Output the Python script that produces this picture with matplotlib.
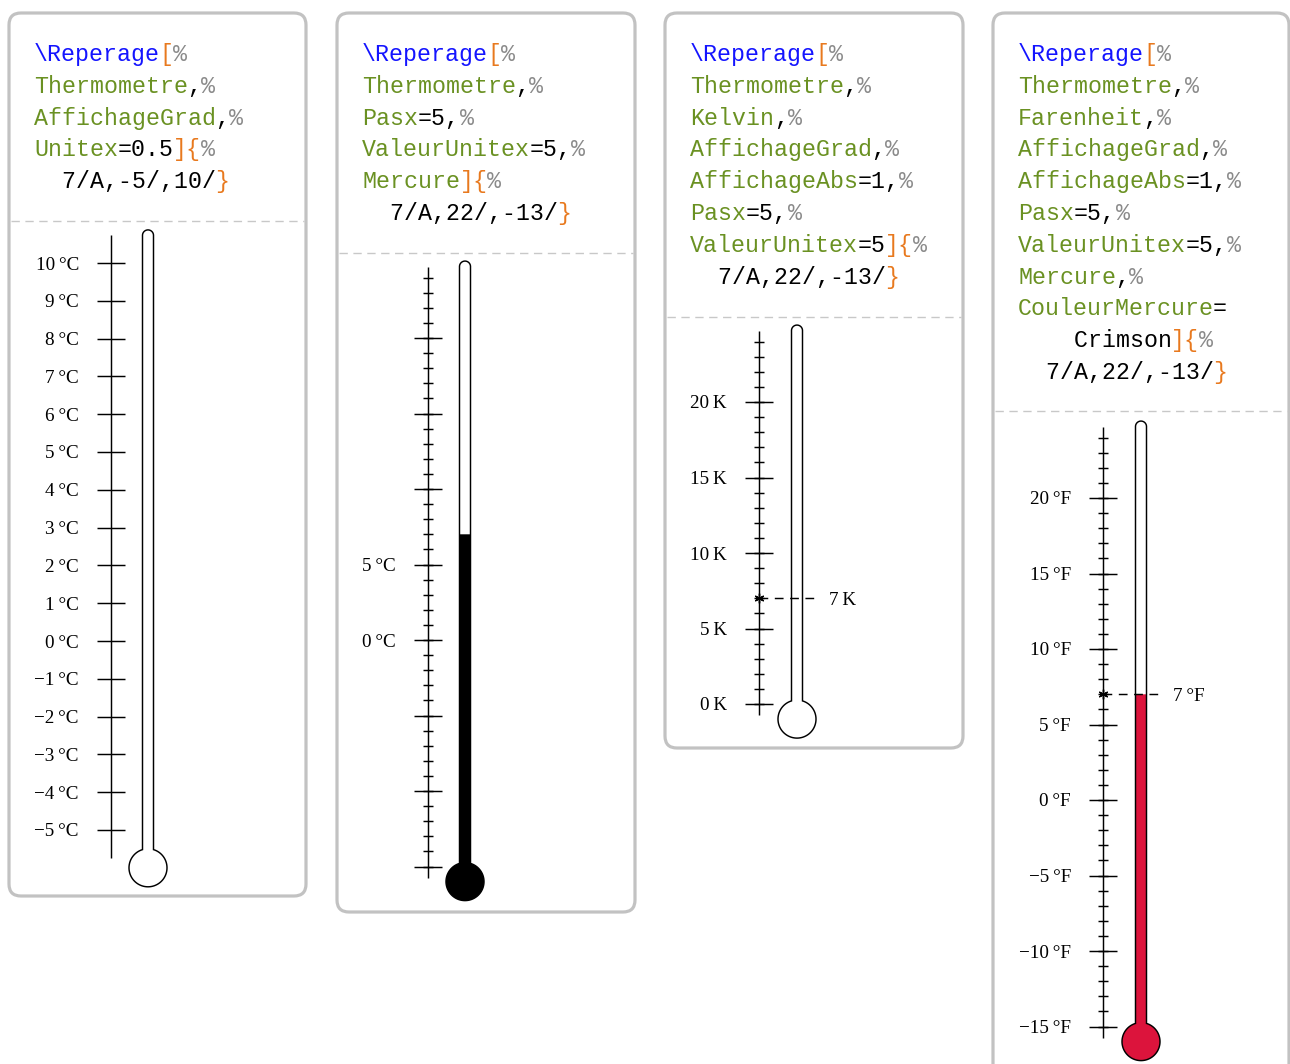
import numpy as np
import matplotlib.pyplot as plt
from matplotlib.patches import FancyBboxPatch, Polygon

W, H = 1290, 1064

# ---------- data ----------
value = 7

p1_major = [-5, -4, -3, -2, -1, 0, 1, 2, 3, 4, 5, 6, 7, 8, 9, 10]
p1_minor = []
p1_labels = [-5, -4, -3, -2, -1, 0, 1, 2, 3, 4, 5, 6, 7, 8, 9, 10]

p2_major = [-15, -10, -5, 0, 5, 10, 15, 20]
p2_minor = [-15, -14, -13, -12, -11, -10, -9, -8, -7, -6, -5, -4, -3, -2, -1,
            0, 1, 2, 3, 4, 5, 6, 7, 8, 9, 10, 11, 12, 13, 14, 15, 16, 17, 18,
            19, 20, 21, 22, 23, 24]
p2_labels = [0, 5]

p3_major = [0, 5, 10, 15, 20]
p3_minor = [0, 1, 2, 3, 4, 5, 6, 7, 8, 9, 10, 11, 12, 13, 14, 15, 16, 17, 18,
            19, 20, 21, 22, 23, 24]
p3_labels = [0, 5, 10, 15, 20]

p4_major = [-15, -10, -5, 0, 5, 10, 15, 20]
p4_minor = p2_minor
p4_labels = [-15, -10, -5, 0, 5, 10, 15, 20]

units = ["\u2009°C", "\u2009°C", "\u2009K", "\u2009°F"]
mercury = [None, "black", None, "#DC143C"]
show_abs = [False, False, True, True]

# code listings: (text, colour key)
code1 = [
    [("\\Reperage", "b"), ("[", "o"), ("%", "p")],
    [("Thermometre", "g"), (",", "k"), ("%", "p")],
    [("AffichageGrad", "g"), (",", "k"), ("%", "p")],
    [("Unitex", "g"), ("=0.5", "k"), ("]{", "o"), ("%", "p")],
    [("  7/A,-5/,10/", "k"), ("}", "o")],
]
code2 = [
    [("\\Reperage", "b"), ("[", "o"), ("%", "p")],
    [("Thermometre", "g"), (",", "k"), ("%", "p")],
    [("Pasx", "g"), ("=5,", "k"), ("%", "p")],
    [("ValeurUnitex", "g"), ("=5,", "k"), ("%", "p")],
    [("Mercure", "g"), ("]{", "o"), ("%", "p")],
    [("  7/A,22/,-13/", "k"), ("}", "o")],
]
code3 = [
    [("\\Reperage", "b"), ("[", "o"), ("%", "p")],
    [("Thermometre", "g"), (",", "k"), ("%", "p")],
    [("Kelvin", "g"), (",", "k"), ("%", "p")],
    [("AffichageGrad", "g"), (",", "k"), ("%", "p")],
    [("AffichageAbs", "g"), ("=1,", "k"), ("%", "p")],
    [("Pasx", "g"), ("=5,", "k"), ("%", "p")],
    [("ValeurUnitex", "g"), ("=5", "k"), ("]{", "o"), ("%", "p")],
    [("  7/A,22/,-13/", "k"), ("}", "o")],
]
code4 = [
    [("\\Reperage", "b"), ("[", "o"), ("%", "p")],
    [("Thermometre", "g"), (",", "k"), ("%", "p")],
    [("Farenheit", "g"), (",", "k"), ("%", "p")],
    [("AffichageGrad", "g"), (",", "k"), ("%", "p")],
    [("AffichageAbs", "g"), ("=1,", "k"), ("%", "p")],
    [("Pasx", "g"), ("=5,", "k"), ("%", "p")],
    [("ValeurUnitex", "g"), ("=5,", "k"), ("%", "p")],
    [("Mercure", "g"), (",", "k"), ("%", "p")],
    [("CouleurMercure", "g"), ("=", "k")],
    [("    Crimson", "k"), ("]{", "o"), ("%", "p")],
    [("  7/A,22/,-13/", "k"), ("}", "o")],
]

COLORS = {"b": "#1414ff", "g": "#6a9122", "o": "#e8791e", "p": "#8a8a8a", "k": "black"}
MONO = ["Liberation Mono", "DejaVu Sans Mono"]
SERIF = ["Liberation Serif", "DejaVu Serif"]
CHARW = 13.93
MONO_FS = CHARW / 0.6 * 0.72
LAB_FS = 13.8

# ---------- layout (pixels) ----------
panels = [
    dict(box=(9, 13, 306, 896), sep=221, x0=34, axx=111, tx=148, y0=641, s=37.8,
         major=p1_major, minor=p1_minor, labels=p1_labels, code=code1),
    dict(box=(337, 13, 635, 912), sep=253, x0=362, axx=428, tx=465, y0=640, s=15.1,
         major=p2_major, minor=p2_minor, labels=p2_labels, code=code2),
    dict(box=(665, 13, 963, 748), sep=317, x0=690, axx=759, tx=797, y0=704, s=15.1,
         major=p3_major, minor=p3_minor, labels=p3_labels, code=code3),
    dict(box=(993, 13, 1289, 1090), sep=411, x0=1018, axx=1103, tx=1141, y0=800, s=15.1,
         major=p4_major, minor=p4_minor, labels=p4_labels, code=code4),
]

fig = plt.figure(figsize=(W / 100, H / 100), dpi=100)
bg = fig.add_axes([0, 0, 1, 1])
bg.set_xlim(0, W)
bg.set_ylim(H, 0)
bg.axis("off")

R = 19.0   # bulb radius px
HW = 5.5   # tube half width px
EXT = 0.73 # axis extension in units
LW = 1.05


def therm_shape(xc, tb, ttop, s, tfill=None):
    a = np.arcsin(HW / R)
    alpha = np.pi / 2 - a
    t_int = tb + np.sqrt(R ** 2 - HW ** 2) / s
    verts = [(xc + HW, t_int)]
    if tfill is None:
        verts.append((xc + HW, ttop))
        th = np.linspace(0, np.pi, 40)
        verts += list(zip(xc + HW * np.cos(th), ttop + HW * np.sin(th) / s))
    else:
        verts += [(xc + HW, tfill), (xc - HW, tfill)]
    verts.append((xc - HW, t_int))
    th = np.linspace(np.pi - alpha, 2 * np.pi + alpha, 120)
    verts += list(zip(xc + R * np.cos(th), tb + R * np.sin(th) / s))
    return verts


for i, p in enumerate(panels):
    x1, y1, x2, y2 = p["box"]
    bg.add_patch(FancyBboxPatch((x1, y1), x2 - x1, y2 - y1,
                                boxstyle="round,pad=0,rounding_size=12",
                                fc="white", ec="#c2c2c2", lw=2.3, zorder=0))
    bg.plot([x1 + 2, x2 - 2], [p["sep"], p["sep"]], color="#c8c8c8", lw=1.0,
            dashes=(6, 4), zorder=1)

    # code text
    for li, segs in enumerate(p["code"]):
        col = 0
        yb = 61 + 31.8 * li
        for txt, ck in segs:
            bg.text(p["x0"] + col * CHARW, yb, txt, family=MONO, fontsize=MONO_FS,
                    color=COLORS[ck], ha="left", va="baseline")
            col += len(txt)

    # thermometer axes: x in px, y in temperature units
    top_px = p["sep"] + 3
    bot_px = min(y2 - 3, H)
    s = p["s"]
    ax = fig.add_axes([x1 / W, 1 - bot_px / H, (x2 - x1) / W, (bot_px - top_px) / H])
    ax.set_xlim(x1, x2)
    ax.set_ylim((p["y0"] - bot_px) / s, (p["y0"] - top_px) / s)
    ax.axis("off")
    ax.patch.set_alpha(0)

    ticks_all = p["major"] + p["minor"]
    lo, hi = min(ticks_all), max(ticks_all)
    axx, tx = p["axx"], p["tx"]
    dy = 2.0 / s  # small downward nudge for labels

    ax.vlines(axx, lo - EXT, hi + EXT, color="black", lw=LW)
    ax.hlines(p["major"], axx - 14, axx + 14, color="black", lw=LW)
    if p["minor"]:
        ax.hlines(p["minor"], axx - 5, axx + 5, color="black", lw=LW)
    for t in p["labels"]:
        lab = (str(t) if t >= 0 else "\u2212" + str(-t)) + units[i]
        ax.text(axx - 32, t - dy, lab, family=SERIF, fontsize=LAB_FS, ha="right", va="center")

    tb = lo - 1.0
    ttop = hi + EXT
    shape = therm_shape(tx, tb, ttop, s)
    ax.add_patch(Polygon(shape, closed=True, fc="white", ec="none", zorder=2))
    if mercury[i]:
        ax.add_patch(Polygon(therm_shape(tx, tb, ttop, s, tfill=value), closed=True,
                             fc=mercury[i], ec="none", zorder=3))
    ax.add_patch(Polygon(shape, closed=True, fc="none", ec="black", lw=LW, zorder=4))

    if show_abs[i]:
        ax.plot([axx, tx + 18], [value, value], color="black", lw=LW,
                dashes=(6, 4.5), zorder=5)
        ax.plot([axx], [value], marker=(6, 2, 0), ms=7, mew=1.0, color="black", zorder=6)
        ax.text(tx + 32, value - dy, str(value) + units[i], family=SERIF, fontsize=LAB_FS,
                ha="left", va="center")

fig.savefig("out.png", dpi=100)
